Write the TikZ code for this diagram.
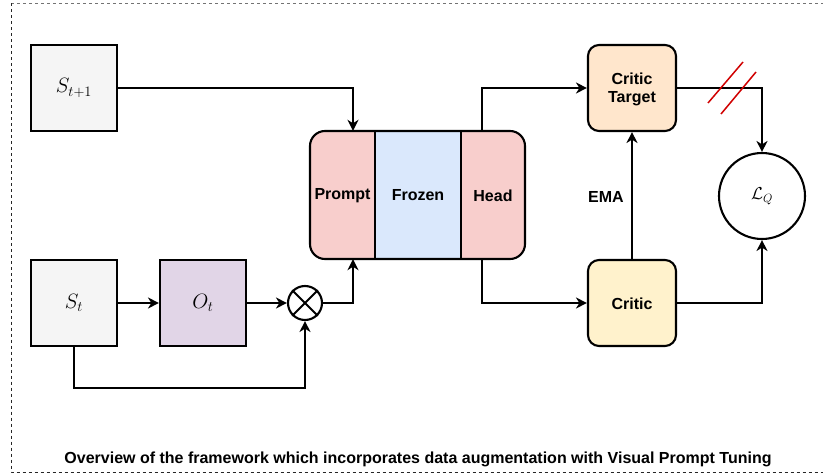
\documentclass[tikz,border=0pt]{standalone}
\usepackage{fontspec}
\setmainfont{Liberation Sans}
\usetikzlibrary{arrows.meta}

\definecolor{statefill}{HTML}{F5F5F5}
\definecolor{augfill}{HTML}{E1D5E7}
\definecolor{pinkfill}{HTML}{F8CECC}
\definecolor{bluefill}{HTML}{DAE8FC}
\definecolor{targetfill}{HTML}{FFE6CC}
\definecolor{criticfill}{HTML}{FFF2CC}
\definecolor{slashred}{HTML}{D00000}

\tikzset{
  lbl/.style={font=\fontsize{16}{19}\selectfont\bfseries, align=center},
  mathlbl/.style={font=\fontsize{20}{22}\selectfont},
  sqbox/.style={draw, line width=2.1pt, minimum width=86pt, minimum height=86pt, inner sep=0pt, mathlbl},
  critbox/.style={draw, line width=2.1pt, rounded corners=11pt, minimum width=88pt, minimum height=86pt, inner sep=0pt, lbl},
  part/.style={minimum height=128pt, inner sep=0pt, lbl},
  conn/.style={line width=2.1pt, -{Stealth[length=11pt, width=11pt, inset=3.5pt]}},
  frame/.style={line width=0.9pt, dash pattern=on 3pt off 3pt},
}

\begin{document}
\begin{tikzpicture}[x=1pt, y=-1pt]
\useasboundingbox (0,0) rectangle (823,476);

% outer dashed frame (open on the right)
\draw[frame, black!55] (11,3.5) -- (823,3.5);
\draw[frame, black!85] (11,3.5) -- (11,472) -- (823,472);

% states and augmentation
\node[sqbox, fill=statefill] (s1) at (74,88) {$S_{t+1}$};
\node[sqbox, fill=statefill] (s0) at (74,303) {$S_t$};
\node[sqbox, fill=augfill] (aug) at (203,303) {$O_t$};
\node[circle, draw, line width=2.1pt, minimum size=34pt, inner sep=0pt] (mul) at (305,303) {};
\draw[line width=2.1pt] (mul.north west) -- (mul.south east) (mul.north east) -- (mul.south west);

% prompt / frozen / head block
\node[fill=pinkfill, rounded corners=15pt, minimum width=215pt, minimum height=128pt, inner sep=0pt] (blk) at (417.5,195) {};
\node[part, minimum width=65pt] (prompt) at (342.5,196) {Prompt};
\node[part, draw, line width=2.1pt, fill=bluefill, minimum width=86pt] (frozen) at (418,195) {Frozen};
\node[part, minimum width=64pt] (head) at (493,196) {Head};
\node[draw, line width=2.1pt, rounded corners=15pt, minimum width=215pt, minimum height=128pt, inner sep=0pt] at (blk) {};

% critics and loss
\node[critbox, fill=targetfill] (ct) at (632,88) {};
\node[lbl, inner sep=0pt] (ctlabel) at (632,89.5) {Critic\\[-1.5pt]Target};
\node[critbox, fill=criticfill] (cr) at (632,303) {};
\node[lbl, inner sep=0pt] (crlabel) at (632,304) {Critic};
\node[circle, draw, line width=2.1pt, minimum size=86pt, inner sep=0pt, font=\fontsize{17}{19}\selectfont] (lq) at (762,196) {$\mathcal{L}_Q$};
\node[lbl] (ema) at (606,197) {EMA};

% connector helpers
\coordinate (pin) at (353,0);
\coordinate (hout) at (482,0);
\coordinate (lowbend) at (305,388);

% connectors
\draw[conn] (s1.east) -| (pin |- blk.north);
\draw[conn] (s0.east) -- (aug.west);
\draw[conn] (aug.east) -- (mul.west);
\draw[conn] (s0.south) |- (lowbend) -- (mul.south);
\draw[conn] (mul.east) -| (pin |- blk.south);
\draw[conn] (hout |- blk.north) |- (ct.west);
\draw[conn] (hout |- blk.south) |- (cr.west);
\draw[conn] (cr.north) -- (ct.south);
\draw[conn] (ct.east) -| (lq.north);
\draw[conn] (cr.east) -| (lq.south);

% stop-gradient marks
\draw[slashred, line width=1.5pt] (708,103) -- (743,62);
\draw[slashred, line width=1.5pt] (721,114) -- (756,72);

% caption
\node[lbl] (cap) at (418,459) {Overview of the framework which incorporates data augmentation with Visual Prompt Tuning};
\end{tikzpicture}
\end{document}
